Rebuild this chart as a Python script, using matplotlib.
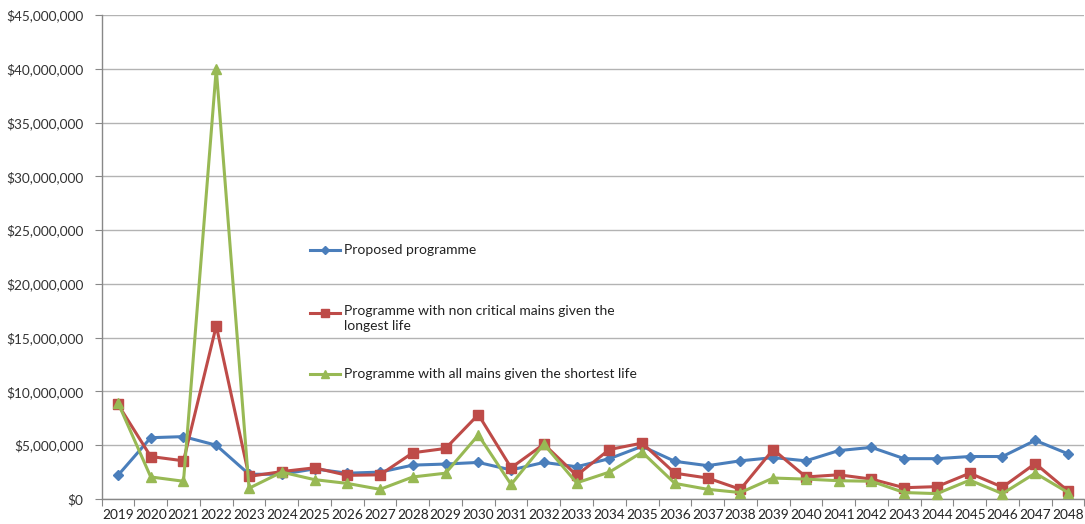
import matplotlib
matplotlib.use("Agg")
import matplotlib.pyplot as plt
from matplotlib.lines import Line2D
from matplotlib.ticker import FuncFormatter, MultipleLocator
import numpy as np

plt.rcParams['font.family'] = ['Lato', 'DejaVu Sans']

years = [str(y) for y in range(2019, 2049)]

proposed = [2.2, 5.7, 5.8, 5.0, 2.3, 2.3, 2.8, 2.4, 2.5, 3.15, 3.25, 3.4, 2.7, 3.4, 3.0,
            3.75, 4.9, 3.5, 3.1, 3.55, 3.85, 3.55, 4.5, 4.8, 3.75, 3.75, 3.95, 3.95, 5.45, 4.2]
noncritical_longest = [8.8, 3.95, 3.55, 16.1, 2.1, 2.55, 2.9, 2.2, 2.25, 4.3, 4.7, 7.85, 2.9, 5.1, 2.2,
                       4.6, 5.2, 2.4, 1.95, 0.9, 4.6, 2.05, 2.25, 1.85, 1.05, 1.15, 2.4, 1.1, 3.3, 0.75]
all_shortest = [8.95, 2.05, 1.65, 40.0, 1.0, 2.5, 1.8, 1.45, 0.9, 2.05, 2.4, 5.95, 1.35, 5.1, 1.5,
                2.5, 4.35, 1.45, 0.9, 0.6, 1.95, 1.85, 1.7, 1.65, 0.6, 0.5, 1.75, 0.5, 2.4, 0.6]

labels = ["Proposed programme",
          "Programme with non critical mains given the\nlongest life",
          "Programme with all mains given the shortest life"]
colors = ["#4A7EBB", "#BE4B48", "#98B954"]
markers = ["D", "s", "^"]
msizes = [5, 6.5, 7]

fig = plt.figure(figsize=(10.85, 5.24), dpi=100)
ax = fig.add_axes([101.6 / 1085, 25 / 524, 982.8 / 1085, 484 / 524])

x = np.arange(len(years))
for vals, c, m, ms in zip([proposed, noncritical_longest, all_shortest], colors, markers, msizes):
    ax.plot(x, np.array(vals) * 1e6, color=c, marker=m, markersize=ms, linewidth=2.2,
            markeredgecolor=c, zorder=3, clip_on=False)

ax.set_xlim(-0.5, len(years) - 0.5)
ax.set_ylim(0, 45e6)
ax.yaxis.set_major_locator(MultipleLocator(5e6))
ax.yaxis.set_major_formatter(FuncFormatter(lambda v, p: "${:,.0f}".format(v)))
ax.grid(axis='y', color='#b3b3b3', linewidth=1.0, zorder=0)
ax.set_axisbelow(True)

ax.set_xticks(x)
ax.set_xticklabels(years)
ax.set_xticks(np.arange(-0.5, len(years)), minor=True)
ax.tick_params(axis='x', which='major', length=0, pad=7, labelsize=9.8, labelcolor='#222222')
ax.tick_params(axis='x', which='minor', length=5, color='#888888', width=0.8)
ax.tick_params(axis='y', length=5, color='#888888', width=0.8, labelsize=9.8, labelcolor='#333333', pad=8)

for s in ['top', 'right']:
    ax.spines[s].set_visible(False)
for s in ['left', 'bottom']:
    ax.spines[s].set_color('#888888')
    ax.spines[s].set_linewidth(1.0)

# legend drawn inside plot area, no frame
leg_x0 = (310 - 101.6) / 982.8
leg_x1 = (340 - 101.6) / 982.8
leg_tx = (344 - 101.6) / 982.8
leg_ys = [(499 - 250) / 484, (499 - 313) / 484, (499 - 374) / 484]
for lab, c, m, ms, yy in zip(labels, colors, markers, msizes, leg_ys):
    ax.add_line(Line2D([leg_x0, leg_x1], [yy, yy], transform=ax.transAxes, color=c,
                       linewidth=2.2, zorder=4))
    ax.add_line(Line2D([(leg_x0 + leg_x1) / 2], [yy], transform=ax.transAxes, color=c,
                       marker=m, markersize=ms - 1, zorder=4))
    if '\n' in lab:
        ax.text(leg_tx, yy + 8 / 484, lab, transform=ax.transAxes, va='top',
                ha='left', fontsize=10, color='#222222', linespacing=1.25)
    else:
        ax.text(leg_tx, yy, lab, transform=ax.transAxes, va='center',
                ha='left', fontsize=10, color='#222222')

fig.savefig("out.png", dpi=100)
